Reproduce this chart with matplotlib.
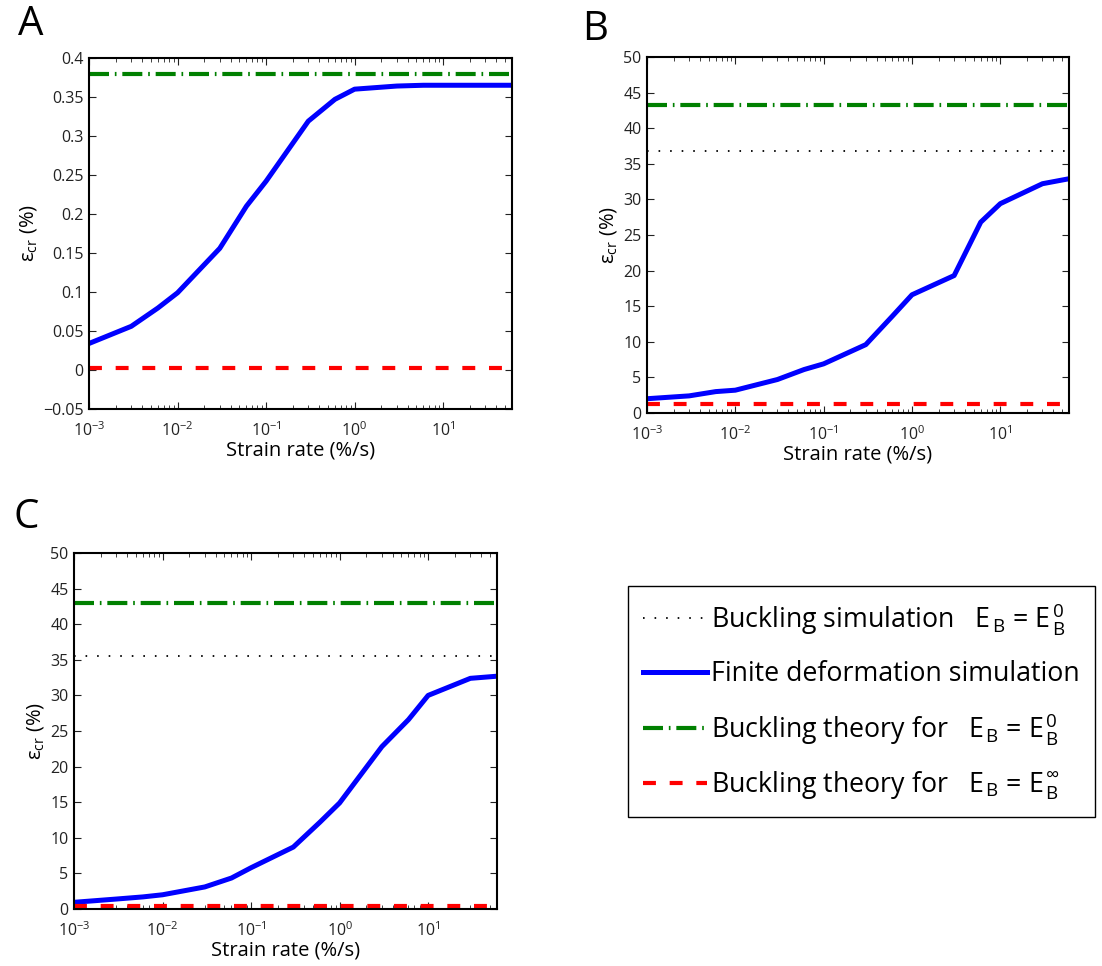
import numpy as np
import matplotlib
matplotlib.use("Agg")
import matplotlib.pyplot as plt
from matplotlib.ticker import FixedLocator, FuncFormatter, LogLocator

plt.rcParams["font.family"] = ["Open Sans", "DejaVu Sans"]
plt.rcParams["mathtext.fontset"] = "custom"
plt.rcParams["mathtext.rm"] = "Open Sans"
plt.rcParams["mathtext.it"] = "Open Sans:italic"
plt.rcParams["mathtext.bf"] = "Open Sans:bold"

# === DATA
strain_rate = [1e-3, 3e-3, 6e-3, 1e-2, 3e-2, 6e-2, 1e-1, 3e-1, 6e-1, 1, 3, 6, 10, 30, 60]

eps_a = [0.034, 0.056, 0.0795, 0.099, 0.156, 0.21, 0.242, 0.319, 0.347,
         0.360, 0.364, 0.365, 0.365, 0.365, 0.365]
eps_b = [2.0, 2.4, 3.0, 3.2, 4.7, 6.1, 6.9, 9.6, 13.6, 16.6, 19.3, 26.8, 29.4, 32.2, 32.9]
eps_c = [0.94, 1.4, 1.7, 2.0, 3.1, 4.35, 5.8, 8.7, 12.2, 14.9, 22.8, 26.6, 30.0, 32.4, 32.7]

# horizontal reference levels: (buckling sim E0, theory E0, theory Einf)
ref_a = [None, 0.38, 0.003]
ref_b = [36.8, 43.3, 1.3]
ref_c = [35.6, 43.0, 0.4]

yticks_a = [-0.05, 0, 0.05, 0.1, 0.15, 0.2, 0.25, 0.3, 0.35, 0.4]
yticks_bc = [0, 5, 10, 15, 20, 25, 30, 35, 40, 45, 50]

labels = [
    r"Buckling simulation   E$_{\,\mathrm{B}}$ = E$_{\,\mathrm{B}}^{\,0}$",
    "Finite deformation simulation",
    r"Buckling theory for   E$_{\,\mathrm{B}}$ = E$_{\,\mathrm{B}}^{\,0}$",
    r"Buckling theory for   E$_{\,\mathrm{B}}$ = E$_{\,\mathrm{B}}^{\,\infty}$",
]

# === FIGURE
fig = plt.figure(figsize=(11.02, 9.66), dpi=100)
ax_a = fig.add_axes([0.0808, 0.5766, 0.3838, 0.3634])
ax_b = fig.add_axes([0.5871, 0.5725, 0.3830, 0.3685])
ax_c = fig.add_axes([0.0672, 0.0590, 0.3838, 0.3685])

xlim = (strain_rate[0], strain_rate[-1])


def yfmt(v, pos):
    s = "%g" % round(v, 4)
    return s.replace("-", "\u2212")


def draw_panel(ax, eps, ref, ylim, yticks):
    handles = [None, None, None, None]
    if ref[0] is not None:
        handles[0], = ax.plot(xlim, [ref[0], ref[0]], color="k", lw=1.3,
                              dashes=(0.9, 5.5))
    handles[1], = ax.plot(strain_rate, eps, color="#0000ff", lw=3.6,
                          solid_joinstyle="round")
    handles[2], = ax.plot(xlim, [ref[1], ref[1]], color="#008000", lw=3.0,
                          dashes=(4.8, 1.4, 0.4, 1.4))
    handles[3], = ax.plot(xlim, [ref[2], ref[2]], color="#ff0000", lw=3.0,
                          dashes=(3.1, 3.3))
    ax.set_xscale("log")
    ax.set_xlim(*xlim)
    ax.set_ylim(*ylim)
    ax.xaxis.set_major_locator(LogLocator(base=10, numticks=10))
    ax.xaxis.set_minor_locator(LogLocator(base=10, subs=np.arange(2, 10), numticks=10))
    ax.yaxis.set_major_locator(FixedLocator(yticks))
    ax.yaxis.set_major_formatter(FuncFormatter(yfmt))
    ax.tick_params(which="both", direction="in", top=True, right=True,
                   labelsize=11.5, colors="#222222", labelcolor="#222222")
    ax.tick_params(axis="x", which="major", pad=9)
    ax.tick_params(axis="y", which="major", pad=4)
    ax.tick_params(which="major", length=5, width=0.8)
    ax.tick_params(which="minor", length=3, width=0.6)
    for sp in ax.spines.values():
        sp.set_linewidth(1.5)
    ax.set_xlabel("Strain rate (%/s)", fontsize=14.5, labelpad=0)
    ax.set_ylabel("ε$_\\mathrm{cr}$ (%)", fontsize=14.5, labelpad=3)
    return handles


draw_panel(ax_a, eps_a, ref_a, (-0.05, 0.4), yticks_a)
draw_panel(ax_b, eps_b, ref_b, (0, 50), yticks_bc)
h = draw_panel(ax_c, eps_c, ref_c, (0, 50), yticks_bc)

# Panel letters
fig.text(0.016, 0.995, "A", fontsize=29, va="top", ha="left")
fig.text(0.528, 0.990, "B", fontsize=29, va="top", ha="left")
fig.text(0.012, 0.485, "C", fontsize=29, va="top", ha="left")

# Legend
leg = fig.legend(h, labels, loc="upper left", bbox_to_anchor=(0.570, 0.393),
                 fontsize=19.3, frameon=True, fancybox=False, framealpha=1,
                 edgecolor="k", handlelength=2.4, handletextpad=0.15,
                 labelspacing=0.85, borderpad=0.55, borderaxespad=0)
leg.get_frame().set_linewidth(1.0)

plt.savefig("out.png", dpi=100)
